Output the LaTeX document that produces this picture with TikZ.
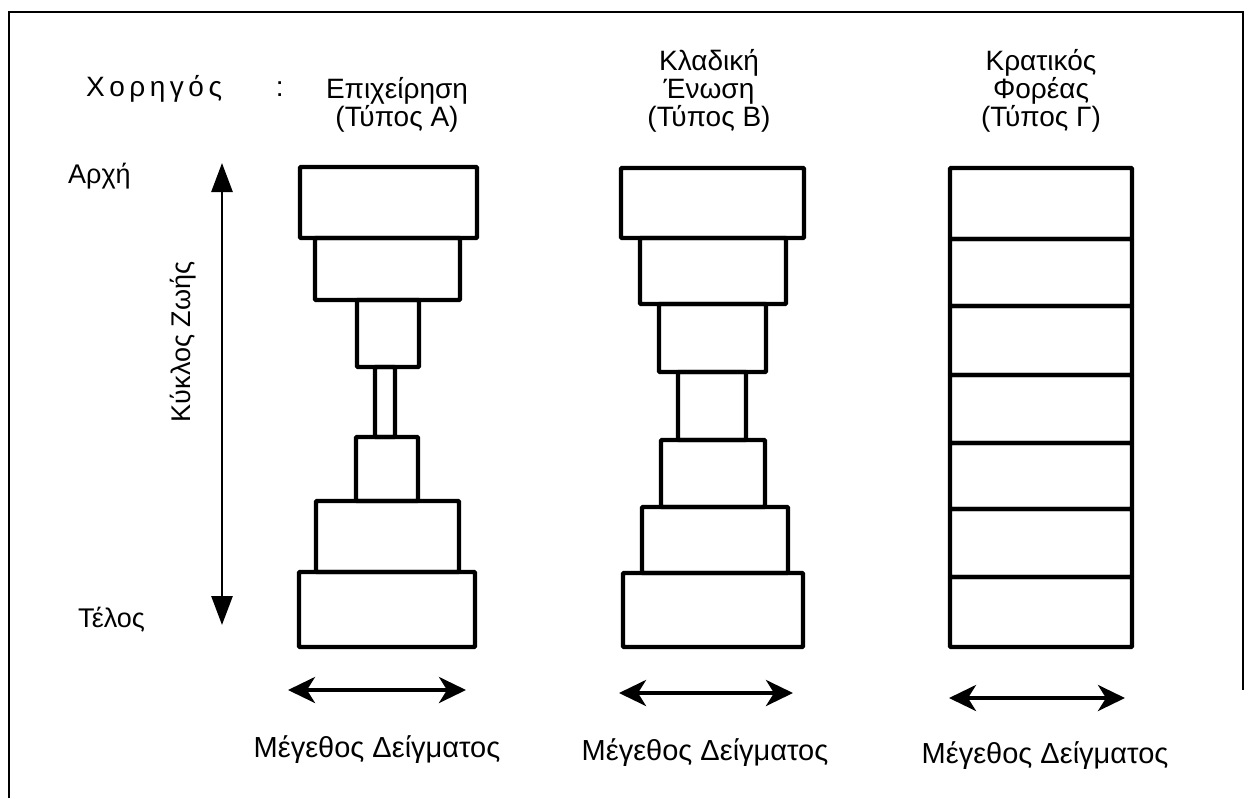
\documentclass[tikz,border=0pt]{standalone}
\usepackage{fontspec}
\setmainfont{Liberation Sans}
\usetikzlibrary{arrows.meta,fit}
\newcommand{\gap}{\hspace{4.5pt}}
\begin{document}
\begin{tikzpicture}[x=1pt,y=-1pt,
  blk/.style={draw, line width=4.2pt, inner sep=0pt, outer sep=0pt, rounded corners=0.8pt},
  lbl/.style={font=\fontsize{28}{28}\selectfont, align=center, inner sep=0pt, anchor=base},
  sizelbl/.style={font=\fontsize{29}{30}\selectfont, inner sep=0pt, anchor=base},
  side/.style={font=\fontsize{27}{28}\selectfont, inner sep=0pt, anchor=base west},
  frame/.style={line width=2pt},
  lifearrow/.style={line width=2.8pt, {Triangle[width=21pt,length=29pt]}-{Triangle[width=21pt,length=29pt]}},
  sizearrow/.style={line width=3.8pt, {Stealth[width=26pt,length=27pt,inset=8pt]}-{Stealth[width=26pt,length=27pt,inset=8pt]}}
]
\useasboundingbox (0,0) rectangle (1255,798);

% outer frame
\coordinate (fBL) at (9,798);
\coordinate (fTL) at (9,12);
\coordinate (fTR) at (1243,12);
\coordinate (fBR) at (1243,690);
\draw[frame] (fBL) -- (fTL) -- (fTR) -- (fBR);

% headings (anchor base = baseline of the last line)
\node[font=\fontsize{28}{30}\selectfont, inner sep=0pt, anchor=base west]
  (sponsor) at (86,96) {Χ\gap ο\gap ρ\gap η\gap γ\gap ό\gap ς\hspace{54pt}:};
\node[lbl] (hdA) at (397,126) {Επιχείρηση\\(Τύπος Α)};
\node[lbl] (hdB) at (709,126) {Κλαδική\\Ένωση\\(Τύπος Β)};
\node[lbl] (hdC) at (1041,126) {Κρατικός\\Φορέας\\(Τύπος Γ)};

% life cycle axis
\node[side] (start) at (68,183) {Αρχή};
\node[side] (end) at (78,627) {Τέλος};
\coordinate (lcTop) at (222,163);
\coordinate (lcBot) at (222,625);
\draw[lifearrow] (lcBot) -- (lcTop);
\node[font=\fontsize{27}{28}\selectfont, rotate=90, inner sep=0pt] (cycle) at (183,342) {Κύκλος Ζωής};

% column A: firm
\node[blk, fit={(300,167) (477,238)}] (a1) {};
\node[blk, fit={(315,238) (460,300)}] (a2) {};
\node[blk, fit={(357,300) (419,367)}] (a3) {};
\node[blk, fit={(375,367) (395,437)}] (a4) {};
\node[blk, fit={(356,437) (418,501)}] (a5) {};
\node[blk, fit={(316,501) (459,572)}] (a6) {};
\node[blk, fit={(299,572) (475,647)}] (a7) {};

% column B: sector association
\node[blk, fit={(621,168) (804,238)}] (b1) {};
\node[blk, fit={(640,238) (786,304)}] (b2) {};
\node[blk, fit={(659,304) (766,372)}] (b3) {};
\node[blk, fit={(678,372) (746,440)}] (b4) {};
\node[blk, fit={(661,440) (765,507)}] (b5) {};
\node[blk, fit={(642,507) (788,573)}] (b6) {};
\node[blk, fit={(623,573) (803,647)}] (b7) {};

% column C: state body
\node[blk, fit={(950,168) (1132,239)}] (c1) {};
\node[blk, fit={(950,239) (1132,306)}] (c2) {};
\node[blk, fit={(950,306) (1132,375)}] (c3) {};
\node[blk, fit={(950,375) (1132,443)}] (c4) {};
\node[blk, fit={(950,443) (1132,509)}] (c5) {};
\node[blk, fit={(950,509) (1132,577)}] (c6) {};
\node[blk, fit={(950,577) (1132,647)}] (c7) {};

% sample size arrows
\coordinate (sAl) at (288,690); \coordinate (sAr) at (466,690);
\coordinate (sBl) at (619,693); \coordinate (sBr) at (793,693);
\coordinate (sCl) at (949,698); \coordinate (sCr) at (1125,698);
\draw[sizearrow] (sAl) -- (sAr);
\draw[sizearrow] (sBl) -- (sBr);
\draw[sizearrow] (sCl) -- (sCr);

\node[sizelbl] (szA) at (377,757) {Μέγεθος Δείγματος};
\node[sizelbl] (szB) at (705,760) {Μέγεθος Δείγματος};
\node[sizelbl] (szC) at (1045,763) {Μέγεθος Δείγματος};
\end{tikzpicture}
\end{document}
